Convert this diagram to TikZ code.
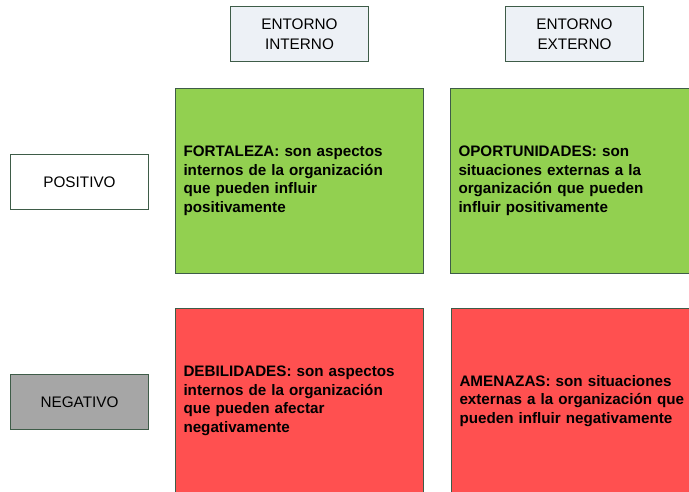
\documentclass[tikz,border=0pt]{standalone}
\usepackage{fontspec}
\setmainfont{Liberation Sans}
\definecolor{boxline}{RGB}{62,92,72}
\definecolor{headfill}{RGB}{237,241,246}
\definecolor{posfill}{RGB}{146,208,80}
\definecolor{negfill}{RGB}{255,80,80}
\definecolor{greyfill}{RGB}{166,166,166}
\begin{document}
\begin{tikzpicture}[x=1pt, y=-1pt,
    label box/.style = {draw=boxline, line width=1pt, minimum width=138pt,
      minimum height=55pt, inner sep=0pt, align=center, anchor=north west,
      font=\fontsize{15.3}{19.5}\selectfont},
    quad box/.style = {draw=boxline, line width=1pt, minimum width=248pt,
      minimum height=185pt, inner xsep=7.5pt, inner ysep=0pt, align=left,
      text width=232pt, anchor=north west,
      font=\bfseries\fontsize{15.2}{18.5}\selectfont}]
  \clip (0,0) rectangle (689,491);
  % column and row headings
  \node [label box, fill=headfill] (interno) at (230,6)   {ENTORNO\\INTERNO};
  \node [label box, fill=headfill] (externo) at (505,6)   {ENTORNO\\EXTERNO};
  \node [label box, fill=white]    (pos)     at (10,154)  {POSITIVO};
  \node [label box, fill=greyfill] (neg)     at (10,374)  {NEGATIVO};
  % the four quadrants
  \node [quad box, fill=posfill] (fortaleza) at (175,88)
    {FORTALEZA: son aspectos\\internos de la organización\\que pueden influir\\positivamente};
  \node [quad box, fill=posfill] (oportunidades) at (450,88)
    {OPORTUNIDADES: son\\situaciones externas a la\\organización que pueden\\influir positivamente};
  \node [quad box, fill=negfill] (debilidades) at (175,308)
    {DEBILIDADES: son aspectos\\internos de la organización\\que pueden afectar\\negativamente};
  \node [quad box, fill=negfill] (amenazas) at (451,308)
    {AMENAZAS: son situaciones\\externas a la organización que\\pueden influir negativamente};
\end{tikzpicture}
\end{document}
